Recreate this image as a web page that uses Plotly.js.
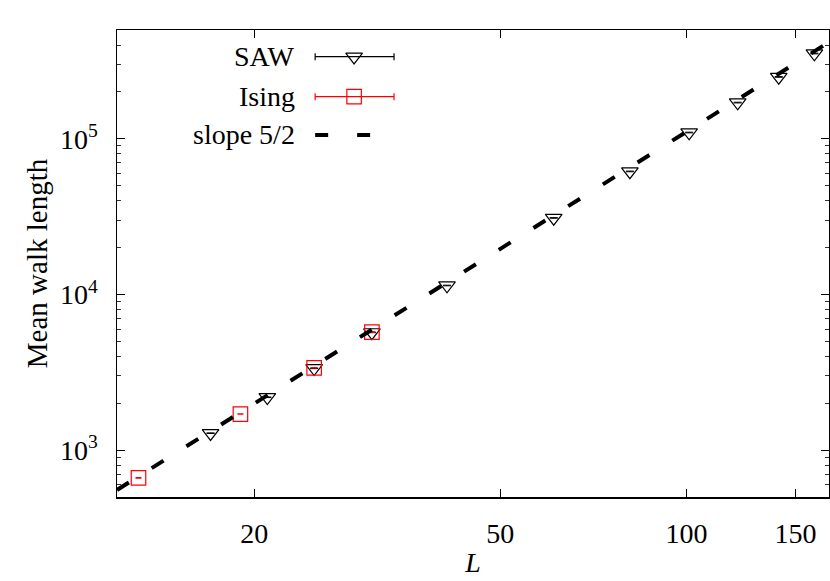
<!DOCTYPE html>
<html>
<head>
<meta charset="utf-8">
<script src="https://cdn.plot.ly/plotly-3.0.1.min.js"></script>
<style>
  html, body { margin: 0; padding: 0; background: #fff; }
  #chart { width: 830px; height: 581px; }
</style>
</head>
<body>
<div id="chart"></div>
<script>
// SAW: system size L, mean walk length, error
var sawL = [17, 21, 25, 31, 41, 61, 81, 101, 121, 141, 161];
var sawLen = [1285, 2186, 3354, 5706, 11420, 31020, 61720, 109750, 170900, 249700, 353200];
var sawErr = [6, 10, 15, 25, 50, 150, 300, 550, 900, 1300, 1900];

// Ising
var isingL = [13, 19, 25, 31];
var isingLen = [664, 1706, 3379, 5731];
var isingErr = [2, 5, 9, 15];

// slope 5/2 guide line (end points)
var slopeL = [12, 170];
var slopeLen = [555, 418000];

// ticks
var xTicks = [20, 50, 100, 150];
var xTickText = ['20', '50', '100', '150'];
var yTicks = [1000, 10000, 100000];
var yTickText = ['10<sup>3</sup>', '10<sup>4</sup>', '10<sup>5</sup>'];

// hand made key (gnuplot style: text on the left, sample on the right)
var keyNames = ['SAW', 'Ising', 'slope 5/2'];
var keyColors = ['#000000', '#ff0000', '#000000'];
var keyRowY = [0.9428, 0.8572, 0.7752];

var fontFam = 'Liberation Serif, Times New Roman, serif';

var data = [
  {
    x: sawL, y: sawLen,
    type: 'scatter', mode: 'markers', name: 'SAW',
    marker: {symbol: 'triangle-down-open', size: 14.5, color: '#000', line: {width: 1.2, color: '#000'}},
    error_y: {type: 'data', array: sawErr, visible: true, color: '#000', thickness: 1, width: 4}
  },
  {
    x: isingL, y: isingLen,
    type: 'scatter', mode: 'markers', name: 'Ising',
    marker: {symbol: 'square-open', size: 14.5, color: '#ff0000', line: {width: 1.2, color: '#ff0000'}},
    error_y: {type: 'data', array: isingErr, visible: true, color: '#ff0000', thickness: 1.2, width: 3}
  },
  {
    x: slopeL, y: slopeLen,
    type: 'scatter', mode: 'lines', name: 'slope 5/2',
    line: {color: '#000', width: 4, dash: '14px,27px'}
  },
  // key sample markers, drawn on a hidden 0..1 overlay
  {
    x: [0.333, 0.333], y: [keyRowY[0], keyRowY[1]],
    xaxis: 'x2', yaxis: 'y2',
    type: 'scatter', mode: 'markers', hoverinfo: 'skip',
    marker: {
      symbol: ['triangle-down-open', 'square-open'], size: 14.5,
      color: ['#000', '#ff0000'],
      line: {width: 1.2, color: ['#000', '#ff0000']}
    }
  }
];

var shapes = [];
var annotations = [];
keyNames.forEach(function(name, i) {
  annotations.push({
    text: name, xref: 'paper', yref: 'paper', x: 0.2526, y: keyRowY[i],
    xanchor: 'right', yanchor: 'middle', showarrow: false,
    font: {family: fontFam, size: 28, color: '#000'}
  });
  if (i < 2) {
    shapes.push({type: 'line', xref: 'paper', yref: 'paper', x0: 0.2783, x1: 0.3891, y0: keyRowY[i], y1: keyRowY[i],
      line: {color: keyColors[i], width: 1.2}});
    shapes.push({type: 'line', xref: 'paper', yref: 'paper', x0: 0.2783, x1: 0.2783, y0: keyRowY[i] - 0.0075, y1: keyRowY[i] + 0.0075,
      line: {color: keyColors[i], width: 1.2}});
    shapes.push({type: 'line', xref: 'paper', yref: 'paper', x0: 0.3891, x1: 0.3891, y0: keyRowY[i] - 0.0075, y1: keyRowY[i] + 0.0075,
      line: {color: keyColors[i], width: 1.2}});
  } else {
    shapes.push({type: 'line', xref: 'paper', yref: 'paper', x0: 0.2783, x1: 0.3555, y0: keyRowY[i], y1: keyRowY[i],
      line: {color: keyColors[i], width: 4, dash: '13px,29px'}});
  }
});

var layout = {
  width: 830,
  height: 581,
  margin: {l: 117, r: 1, t: 30, b: 84},
  paper_bgcolor: '#fff',
  plot_bgcolor: '#fff',
  font: {family: fontFam, size: 28, color: '#000'},
  showlegend: false,
  xaxis: {
    type: 'log',
    range: [Math.log10(12), Math.log10(170)],
    tickmode: 'array', tickvals: xTicks, ticktext: xTickText,
    ticks: 'inside', ticklen: 8, tickwidth: 1, tickcolor: '#000',
    ticklabelstandoff: 11,
    showline: true, linecolor: '#000', linewidth: 1.5, mirror: 'allticks',
    showgrid: false, zeroline: false,
    tickfont: {family: fontFam, size: 28, color: '#000'},
    title: {text: '<i>L</i>', standoff: 4, font: {family: fontFam, size: 28, color: '#000'}}
  },
  yaxis: {
    type: 'log',
    range: [Math.log10(500), Math.log10(500000)],
    tickmode: 'array', tickvals: yTicks, ticktext: yTickText,
    ticks: 'inside', ticklen: 8, tickwidth: 1, tickcolor: '#000',
    ticklabelstandoff: 12,
    minor: {dtick: 'D1', ticks: 'inside', ticklen: 4, tickwidth: 1, tickcolor: '#333', showgrid: false},
    showline: true, linecolor: '#000', linewidth: 1.5, mirror: 'allticks',
    showgrid: false, zeroline: false,
    tickfont: {family: fontFam, size: 28, color: '#000'},
    title: {text: 'Mean walk length', standoff: 4, font: {family: fontFam, size: 29, color: '#000'}}
  },
  xaxis2: {overlaying: 'x', anchor: 'y2', range: [0, 1], visible: false, fixedrange: true},
  yaxis2: {overlaying: 'y', anchor: 'x2', range: [0, 1], visible: false, fixedrange: true},
  shapes: shapes,
  annotations: annotations
};

Plotly.newPlot('chart', data, layout, {displayModeBar: false, staticPlot: true});
</script>
</body>
</html>
